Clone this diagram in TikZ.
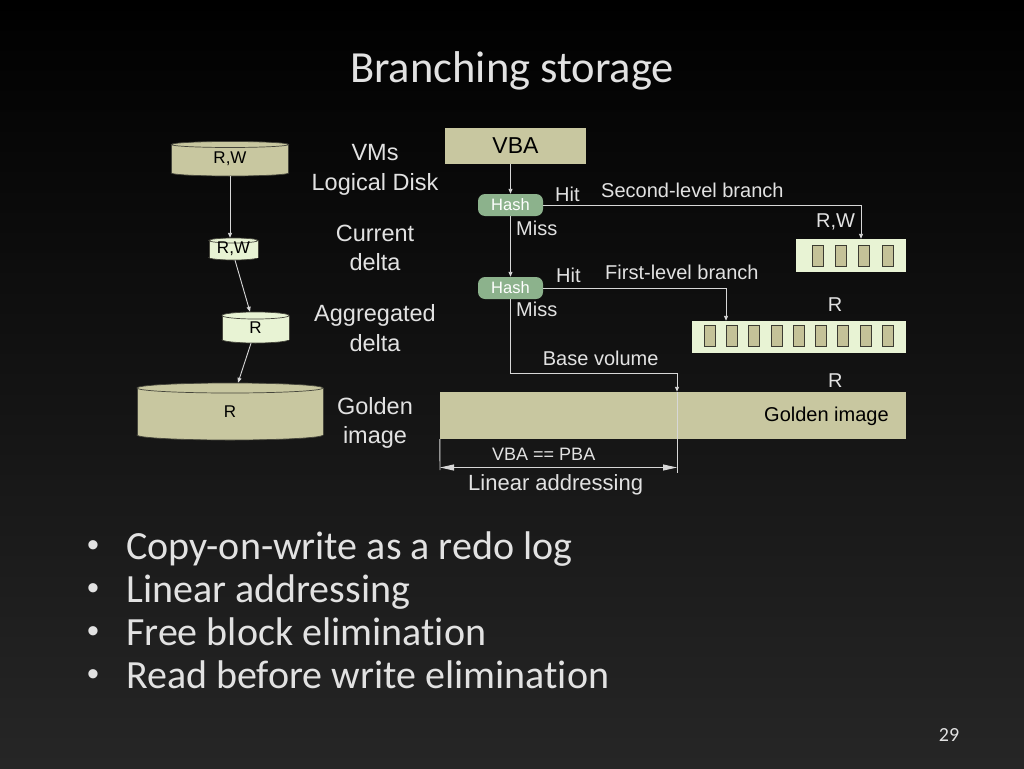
\documentclass[tikz,border=0pt]{standalone}
\usepackage{fontspec}
\setmainfont{Carlito}[Ligatures=NoCommon]
\newfontfamily\arialf{Liberation Sans}
\usetikzlibrary{arrows.meta,calc}
\definecolor{bgbot}{RGB}{38,38,38}
\definecolor{txt}{RGB}{226,226,226}
\definecolor{linec}{RGB}{215,215,215}
\definecolor{oliv}{RGB}{200,199,160}
\definecolor{lightg}{RGB}{232,243,212}
\definecolor{hashc}{RGB}{140,178,140}
\definecolor{cellc}{RGB}{196,194,152}
\definecolor{celld}{RGB}{60,60,50}
\definecolor{cylline}{RGB}{70,70,60}
\newcommand\fsz[1]{\fontsize{#1}{#1}\selectfont}
% name, cx, cy, w, h, ry, fill, text
\newcommand\mycyl[8]{%
  \filldraw[fill=#7,draw=cylline,line width=0.7pt] (#2,#3+#5/2) ellipse[x radius=#4/2, y radius=#6];
  \fill[#7] (#2-#4/2,#3-#5/2) rectangle (#2+#4/2,#3+#5/2);
  \draw[cylline,line width=0.7pt] (#2-#4/2,#3-#5/2) -- (#2-#4/2,#3+#5/2) (#2+#4/2,#3-#5/2) -- (#2+#4/2,#3+#5/2);
  \filldraw[fill=#7,draw=cylline,line width=0.7pt] (#2,#3-#5/2) ellipse[x radius=#4/2, y radius=#6];
  \node[cylbody, minimum width=#4, minimum height=#5] (#1) at (#2,#3) {#8};
}
\begin{document}
\begin{tikzpicture}[x=1pt,y=-1pt,
  cylbody/.style={draw=none, inner sep=0, font=\arialf\fsz{17}, text=black},
  lbl/.style={text=txt, font=\arialf\fsz{20}, inner sep=0, anchor=base west},
  side/.style={text=txt, font=\arialf\fsz{23.5}, inner sep=0, anchor=base},
  conn/.style={draw=linec, line width=0.9pt},
  arr/.style={conn, -{Triangle[length=5pt,width=4pt]}},
  dimarr/.style={conn, {Triangle[length=14pt,width=6pt]}-{Triangle[length=14pt,width=6pt]}},
  boxn/.style={draw=none, inner sep=0},
  hash/.style={boxn, fill=hashc, rounded corners=7pt, minimum width=65, minimum height=22, text=white, font=\arialf\fsz{16.5}},
  cell/.style={draw=celld, fill=cellc, line width=0.8pt, inner sep=0, minimum width=11, minimum height=21},
  bullet/.style={text=txt, font=\fsz{40}, inner sep=0},
]
\shade[top color=black,bottom color=bgbot] (0,0) rectangle (1024,768);
\useasboundingbox (0,0) rectangle (1024,768);

% title
\node[text=txt, font=\fsz{44.5}, inner sep=0, anchor=base] (title) at (512,82) {Branching storage};

% left cylinders
\mycyl{c1}{230}{158.75}{117}{28.5}{3}{oliv}{R,W}
\mycyl{c2}{233.5}{249}{49}{17}{2.5}{lightg}{R,W}
\mycyl{c3}{255.5}{327.5}{67}{24}{3.5}{lightg}{R}
\mycyl{c4}{230}{411.5}{186}{47}{5}{oliv}{R}

\coordinate (c2top) at ([yshift=2.5pt]c2.north);
\draw[arr] ([yshift=-3pt]c1.south) -- (c1.south |- c2top);
\draw[arr] ([xshift=1.5pt,yshift=-2.5pt]c2.south) -- ([xshift=-5.5pt,yshift=3.5pt]c3.north);
\draw[arr] ([xshift=-4.5pt,yshift=-3.5pt]c3.south) -- ([xshift=8pt,yshift=5pt]c4.north);

% side labels
\node[side] (l1) at (375,160.5) {VMs};
\node[side] (l2) at (375,190.7) {Logical Disk};
\node[side] (l3) at (375,241) {Current};
\node[side] (l4) at (375,270.5) {delta};
\node[side] (l5) at (375,321.7) {Aggregated};
\node[side] (l6) at (375,351) {delta};
\node[side] (l7) at (375,414) {Golden};
\node[side] (l8) at (375,443) {image};

% right diagram
\node[boxn, fill=oliv, minimum width=141, minimum height=36, font=\arialf\fsz{23}, text=black] (vba) at (515.5,146) {VBA};
\node[hash] (h1) at (510.5,205) {Hash};
\node[hash] (h2) at (510.5,288) {Hash};
\node[boxn, fill=lightg, minimum width=110, minimum height=33] (b2) at (851,255.5) {};
\node[boxn, fill=lightg, minimum width=214, minimum height=32] (b1) at (799,337) {};
\foreach \i in {0,...,3} \node[cell] (s\i) at (817.7+23.3*\i,256.3) {};
\foreach \i in {0,...,8} \node[cell] (f\i) at (709.5+22.3*\i,336.3) {};
\node[boxn, fill=oliv, minimum width=466, minimum height=47] (gold) at (673,415.5) {};

\draw[arr] (vba.south -| h1.north) -- (h1.north);
\draw[arr] (h1.south) -- (h2.north);
\draw[arr] (h1.east) -| ([xshift=10pt]b2.north);
\draw[arr] (h2.east) -| ([xshift=-73pt]b1.north);
\coordinate (bv) at (677,373);
\coordinate (dimR) at (677,473);
\coordinate (dimL) at (440,470);
\coordinate (da) at (440,467.5);
\coordinate (db) at (677,467.5);
\draw[arr] (h2.south) |- (bv) -- (gold.north -| bv);
\draw[conn] (gold.north -| bv) -- (dimR);
\draw[conn] (gold.south west) -- (dimL);
\draw[dimarr] (da) -- (db);

\node[lbl] (hit1) at (555,201) {Hit};
\node[lbl] (sec) at (601,197) {Second-level branch};
\node[lbl] (rw) at (816,227.3) {R,W};
\node[lbl] (miss1) at (516,235) {Miss};
\node[lbl] (hit2) at (556,282.3) {Hit};
\node[lbl] (fir) at (605,279.3) {First-level branch};
\node[lbl] (r1) at (827.7,311.7) {R};
\node[lbl] (miss2) at (516,316.7) {Miss};
\node[lbl] (base) at (542.7,365) {Base volume};
\node[lbl] (r2) at (828,387) {R};
\node[lbl, text=black] (gl) at (764,421.7) {Golden image};
\node[lbl, font=\arialf\fsz{18}] (vp) at (492,460.7) {VBA == PBA};
\node[lbl, font=\arialf\fsz{22}] (la) at (468,490.7) {Linear addressing};

% bullets
\foreach \t [count=\k from 0] in {Copy-on-write as a redo log, Linear addressing, Free block elimination, Read before write elimination} {
  \node[bullet, font=\arialf\fsz{34}, anchor=base] (bd\k) at (93,556+43*\k) {•};
  \node[bullet, anchor=base west] (bt\k) at (126,559+43*\k) {\t};
}
\node[text=txt, font=\fsz{20}, inner sep=0, anchor=base] (pg) at (949,741) {29};
\end{tikzpicture}
\end{document}
